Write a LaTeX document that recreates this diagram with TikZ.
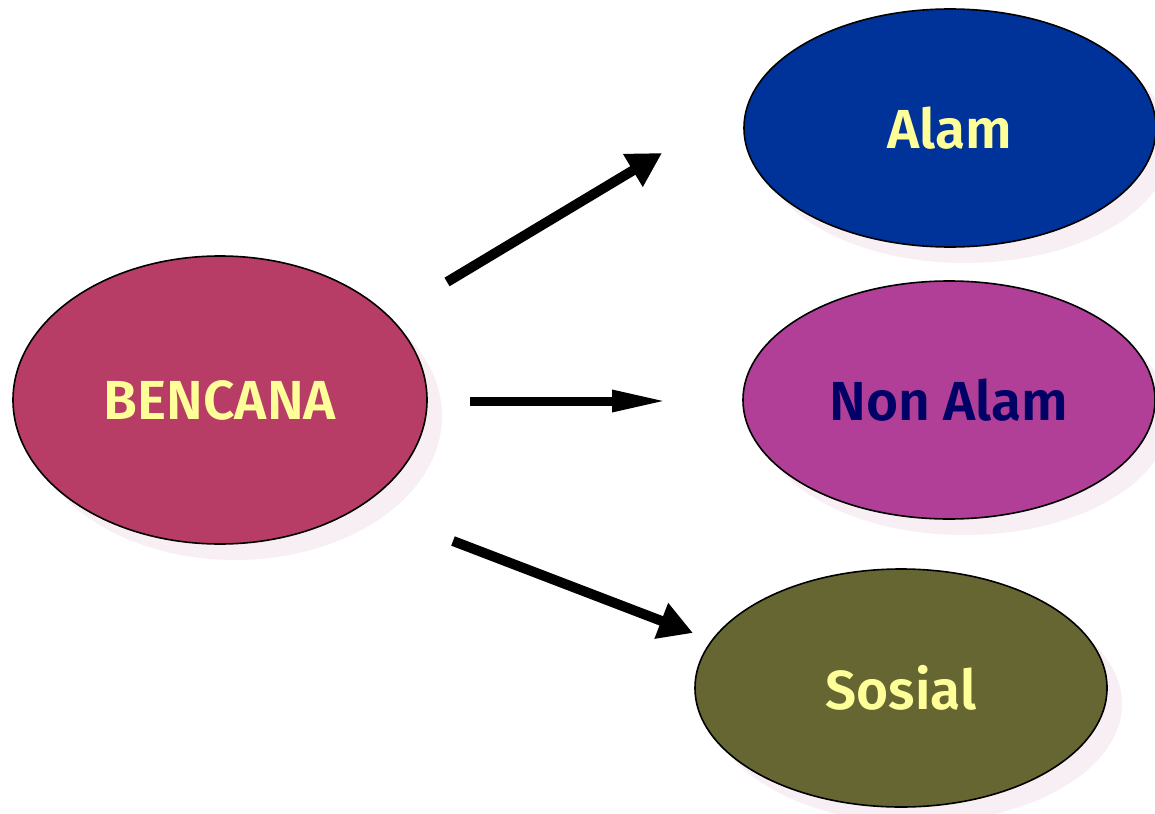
\documentclass[tikz,border=0pt]{standalone}
\usepackage{fontspec}
\setmainfont{Fira Sans}[BoldFont={Fira Sans SemiBold}]
\usetikzlibrary{shapes.geometric,shadows,arrows.meta}
\definecolor{cBen}{HTML}{B83D66}
\definecolor{cAlam}{HTML}{003399}
\definecolor{cNon}{HTML}{B13F97}
\definecolor{cSos}{HTML}{666633}
\definecolor{cTxt}{HTML}{FFFF99}
\definecolor{cNavy}{HTML}{000066}
\definecolor{cShadow}{HTML}{F7EFF3}
\begin{document}
\begin{tikzpicture}[x=1pt,y=-1pt,
  oval/.style={ellipse, draw=black, line width=1.6pt, inner sep=0pt,
    minimum width=412pt, minimum height=238pt,
    font=\fontsize{55}{62}\selectfont\bfseries, text=cTxt,
    drop shadow={shadow xshift=15pt, shadow yshift=-16pt, fill=cShadow, opacity=1}},
  bigarrow/.style={line width=10pt, -{Triangle[length=34pt,width=36pt]}},
  thinarrow/.style={line width=9pt, -{Stealth[length=56pt,width=20pt,inset=0pt]}}]
\useasboundingbox (0,0) rectangle (1155,813);
\node[oval, fill=cBen, minimum width=414pt, minimum height=288pt] (ben) at (220,400) {BENCANA};
\node[oval, fill=cAlam] (alam) at (950,128) {Alam};
\node[oval, fill=cNon, text=cNavy] (non) at (949,400) {Non Alam};
\node[oval, fill=cSos] (sos) at (901,688) {Sosial};
\coordinate (s1) at (447,282);
\coordinate (e1) at (662,153);
\coordinate (s2) at (470,401);
\coordinate (e2) at (668,401);
\coordinate (s3) at (453,541);
\coordinate (e3) at (693,633);
\draw[bigarrow] (s1) -- (e1);
\draw[thinarrow] (s2) -- (e2);
\draw[bigarrow] (s3) -- (e3);
\end{tikzpicture}
\end{document}
